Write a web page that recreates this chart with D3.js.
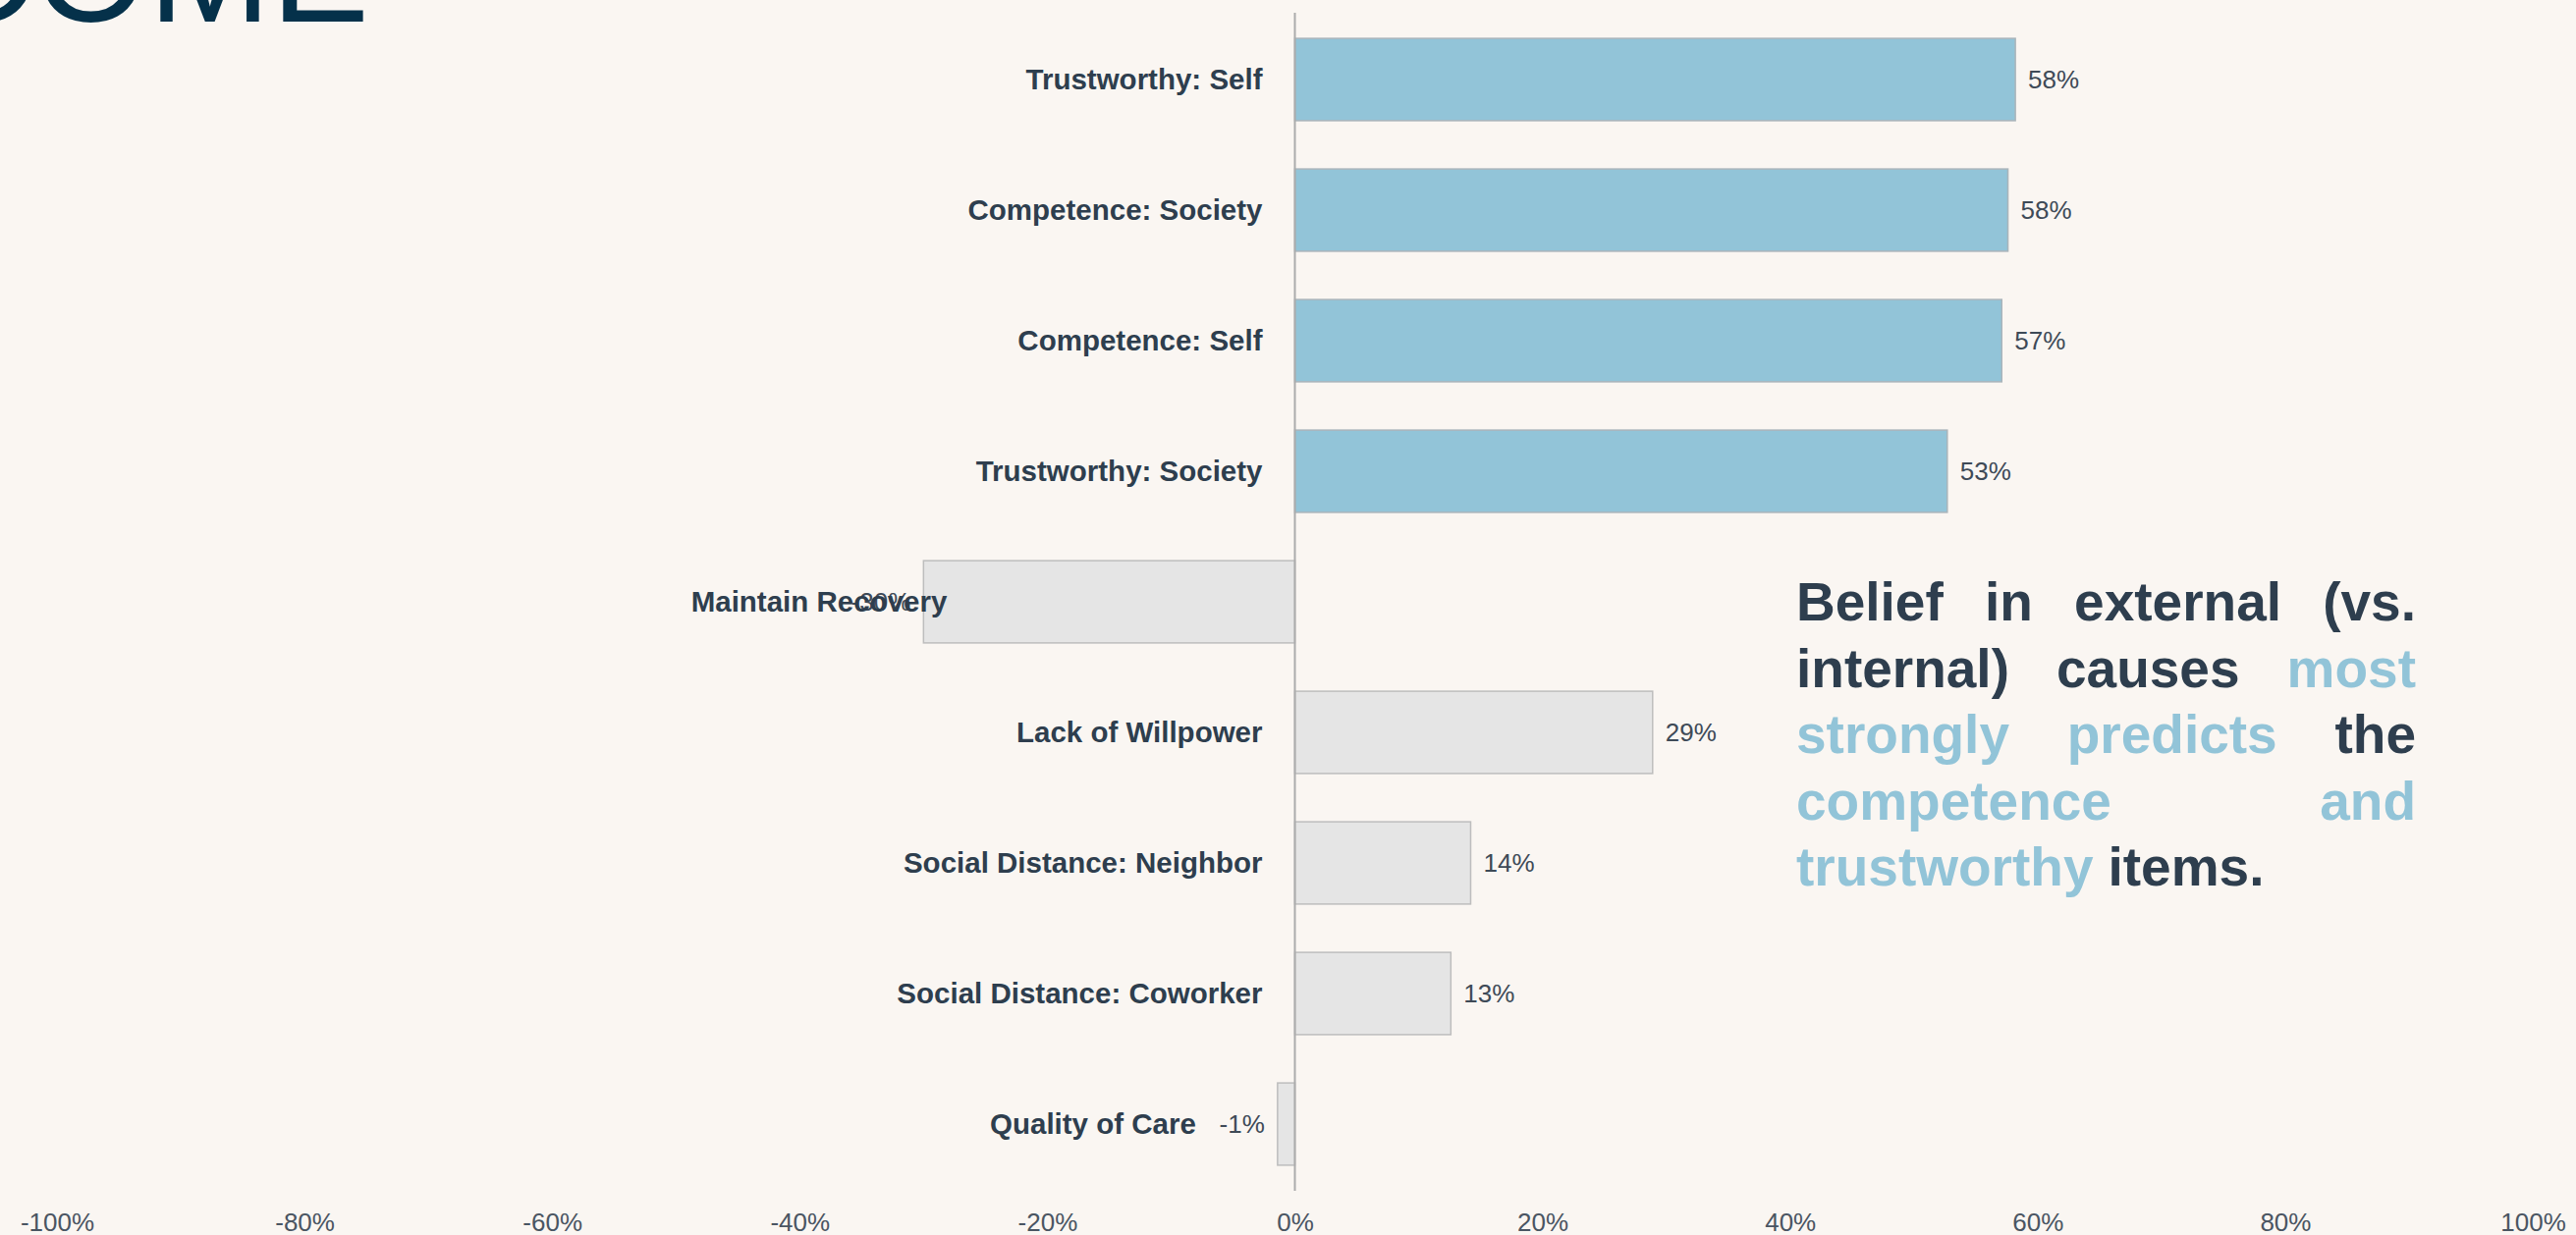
<!DOCTYPE html>
<html>
<head>
<meta charset="utf-8">
<script src="https://cdn.jsdelivr.net/npm/d3@7"></script>
<style>
    html, body { margin: 0; padding: 0; background: #FAF6F2; overflow: hidden; }
    svg { display: block; }
</style>
</head>
<body>
<div id="chart"></div>
<script>
// data
let categories = ["Trustworthy: Self", "Competence: Society", "Competence: Self", "Trustworthy: Society",
    "Maintain Recovery", "Lack of Willpower", "Social Distance: Neighbor", "Social Distance: Coworker", "Quality of Care"];
let values = [0.582, 0.576, 0.571, 0.527, -0.30, 0.289, 0.142, 0.126, -0.014];
let highlighted = [true, true, true, true, false, false, false, false, false];
let tickValues = [-1, -0.8, -0.6, -0.4, -0.2, 0, 0.2, 0.4, 0.6, 0.8, 1];

let titleText = "OUTCOME";
let noteLines = [
    [["Belief", 0], ["in", 0], ["external", 0], ["(vs.", 0]],
    [["internal)", 0], ["causes", 0], ["most", 1]],
    [["strongly", 1], ["predicts", 1], ["the", 0]],
    [["competence", 1], ["and", 1]],
    [["trustworthy", 1], ["items.", 0]]
];

let width = 2623;
let height = 1258;
let dark = "#2E3E4E";
let blue = "#92C4D8";

// plain hyphen for negatives, like the original
let pct = function (v) {
    return d3.format(".0%")(v).replace("\u2212", "-");
};

let svg = d3.select("#chart").append("svg")
    .attr("width", width)
    .attr("height", height)
    .style("background", "#FAF6F2");

let x = d3.scaleLinear().domain([-1, 1]).range([58, 2579]);
let y = d3.scaleBand().domain(categories).range([14.5, 1211.5]).paddingInner(0.37).paddingOuter(0.185);

let rows = categories.map(function (c, i) {
    return {name: c, value: values[i], hi: highlighted[i]};
});

// big heading, mostly off the top of the page
svg.append("text")
    .attr("x", 376)
    .attr("y", 22)
    .attr("text-anchor", "end")
    .style("font-family", "'Liberation Sans', Arial, sans-serif")
    .style("font-size", "150px")
    .attr("fill", "#05314A")
    .text(titleText);

// bars
svg.selectAll(".bar")
    .data(rows)
    .enter()
    .append("rect")
    .attr("class", "bar")
    .attr("x", function (d) { return x(Math.min(0, d.value)); })
    .attr("y", function (d) { return y(d.name); })
    .attr("width", function (d) { return Math.abs(x(d.value) - x(0)); })
    .attr("height", y.bandwidth())
    .attr("fill", function (d) { return d.hi ? blue : "#E5E5E5"; })
    .attr("stroke", function (d) { return d.hi ? "#A9B4BA" : "#BDBDBD"; })
    .attr("stroke-width", 1.5);

// zero line
svg.append("line")
    .attr("x1", x(0)).attr("x2", x(0))
    .attr("y1", 13).attr("y2", 1213)
    .attr("stroke", "#ABABAB")
    .attr("stroke-width", 2);

// value labels
svg.selectAll(".val")
    .data(rows)
    .enter()
    .append("text")
    .attr("class", "val")
    .attr("x", function (d) { return d.value >= 0 ? x(d.value) + 13 : x(d.value) - 13; })
    .attr("y", function (d) { return y(d.name) + y.bandwidth() / 2; })
    .attr("dy", "0.35em")
    .attr("text-anchor", function (d) { return d.value >= 0 ? "start" : "end"; })
    .style("font-family", "'Liberation Sans', Arial, sans-serif")
    .style("font-size", "26px")
    .attr("fill", "#3E4A57")
    .text(function (d) { return pct(d.value); });

// category labels
function labelEnd(d) {
    if (d.value >= 0) return x(0) - 33;
    if (d.value > -0.1) return x(d.value) - 83;
    return x(d.value) + 24;  // this one runs into its own bar in the original
}

svg.selectAll(".cat")
    .data(rows)
    .enter()
    .append("text")
    .attr("class", "cat")
    .attr("x", labelEnd)
    .attr("y", function (d) { return y(d.name) + y.bandwidth() / 2; })
    .attr("dy", "0.35em")
    .attr("text-anchor", "end")
    .style("font-family", "'Liberation Sans', Arial, sans-serif")
    .style("font-size", "29.5px")
    .style("font-weight", "bold")
    .attr("fill", dark)
    .text(function (d) { return d.name; });

// x axis, labels only
let axis = svg.append("g")
    .attr("transform", "translate(0,1236)")
    .call(d3.axisBottom(x).tickValues(tickValues).tickFormat(pct).tickSize(0).tickPadding(0));
axis.select(".domain").remove();
axis.selectAll("text")
    .attr("dy", "0.71em")
    .style("font-family", "'Liberation Sans', Arial, sans-serif")
    .style("font-size", "26px")
    .attr("fill", "#4A5562");

// justified note on the right
let noteLeft = 1829;
let noteRight = 2460;
let note = svg.append("g").attr("class", "note");

noteLines.forEach(function (line, li) {
    let baseY = 632 + li * 67.5;
    let words = line.map(function (w) {
        return note.append("text")
            .attr("y", baseY)
            .style("font-family", "'Liberation Sans', Arial, sans-serif")
            .style("font-size", "55px")
            .style("font-weight", "bold")
            .attr("fill", w[1] ? blue : dark)
            .text(w[0]);
    });
    let widths = words.map(function (t) { return t.node().getComputedTextLength(); });
    let total = d3.sum(widths);
    let last = li === noteLines.length - 1;
    let gap = last ? 15 : (noteRight - noteLeft - total) / (words.length - 1);
    let cx = noteLeft;
    words.forEach(function (t, i) {
        t.attr("x", cx);
        cx += widths[i] + gap;
    });
});
</script>
</body>
</html>
